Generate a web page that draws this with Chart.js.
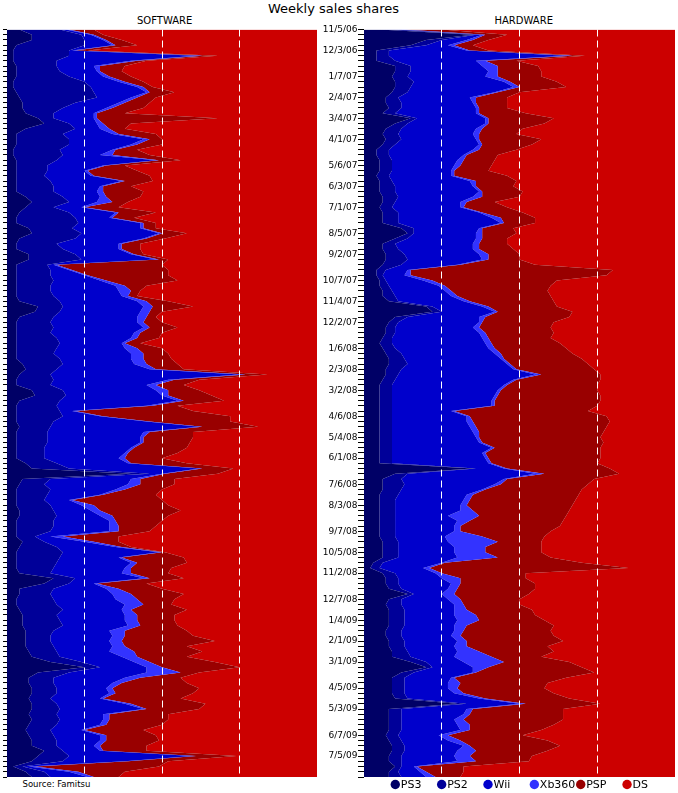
<!DOCTYPE html>
<html>
<head>
<meta charset="utf-8">
<script src="https://cdn.jsdelivr.net/npm/chart.js@4.4.0/dist/chart.umd.min.js"></script>
<style>
  body { margin: 0; background: #fff; }
  #page { position: relative; width: 678px; height: 793px; font-family: 'DejaVu Sans', sans-serif; color: #000; overflow: hidden; }
  .txt { position: absolute; white-space: nowrap; line-height: 1; }
  .panel { position: absolute; top: 0; height: 793px; }
</style>
</head>
<body>
<div id="page">
  <div class="txt" style="left:268px;top:2px;font-size:13px">Weekly sales shares</div>
  <div class="txt" style="left:137px;top:15.5px;font-size:10px">SOFTWARE</div>
  <div class="txt" style="left:494.5px;top:15.5px;font-size:10px">HARDWARE</div>
  <div class="txt" style="left:22.5px;top:780px;font-size:8.5px">Source: Famitsu</div>
  <div class="panel" style="left:0;width:320px"><canvas id="software"></canvas></div>
  <div class="panel" style="left:318px;width:360px"><canvas id="hardware"></canvas></div>
</div>
<script>
// weekly categories, first week 11/5/06
const START = Date.UTC(2006, 10, 5);
const WEEKS = [];
for (let i = 0; i < 144; i++) {
  const d = new Date(START + i * 7 * 864e5);
  WEEKS.push((d.getUTCMonth() + 1) + '/' + d.getUTCDate() + '/' + String(d.getUTCFullYear()).slice(2));
}

const TICK_LABELS = ['11/5/06', '12/3/06', '1/7/07', '2/4/07', '3/4/07', '4/1/07', '5/6/07', '6/3/07',
  '7/1/07', '8/5/07', '9/2/07', '10/7/07', '11/4/07', '12/2/07', '1/6/08', '2/3/08', '3/2/08',
  '4/6/08', '5/4/08', '6/1/08', '7/6/08', '8/3/08', '9/7/08', '10/5/08', '11/2/08', '12/7/08',
  '1/4/09', '2/1/09', '3/1/09', '4/5/09', '5/3/09', '6/7/09', '7/5/09'];

const PLATFORMS = ['PS3', 'PS2', 'Wii', 'Xb360', 'PSP', 'DS'];
const COLORS = ['#000066', '#000099', '#0000cc', '#3333ff', '#990000', '#cc0000'];

// software shares (%)
const SW_PS3 = [4,8,8,3,2,2,2,3,3,3, 2,2,3,4,5,5,6,10,12,6, 3,3,3,2,2,3,3,3,3,3,
  3,3,6,8,6,4,3,3,7,8, 4,3,3,7,7,3,3,3,3,3, 3,3,4,10,9,4,3,3,3,3, 3,3,3,3,5,6,4,3,3,8,
  9,4,3,3,3,3,4,3,3,3, 3,3,3,6,8,40,5,4,3,3, 3,3,4,4,3,3,3,3,5,4, 3,3,3,3,4,15,12,4,4,3,
  3,4,5,5,5,6,6,6,6,7, 8,14,25,10,7,7,8,8,7,8, 8,7,8,7,6,7,8,8,12,10, 8,2,6,8];
const SW_PS2 = [13,16,17,22,18,18,14,13,14,17, 23,25,25,25,17,13,9,5,8,16, 15,17,17,15,16,13,10,10,9,11,
  12,12,12,12,9,16,19,20,14,16, 18,13,15,15,17,10,11,11,12,11, 11,12,13,8,8,11,11,12,11,13,
  14,13,12,14,13,10,10,12,11,10, 10,13,13,14,15,12,10,10,10,10, 9,9,9,10,12,6,9,8,11,10,
  9,11,11,12,12,12,11,6,7,12, 15,14,13,12,10,7,8,11,10,12, 13,14,11,12,13,9,8,8,9,9,
  9,10,5,10,8,8,8,8,7,8, 9,9,9,9,8,8,8,8,6,10, 10,3,6,6];
const SW_WII = [2,3,6,9,1,41,24,12,12,11, 11,15,17,11,14,14,13,13,9,8, 16,24,20,17,12,32,18,12,15,23,
  15,14,12,9,9,15,11,20,22,25, 22,20,18,18,24,2,6,11,15,21, 22,22,25,26,26,27,28,29,27,24,
  20,22,25,23,23,30,61,37,31,30, 31,38,29,4,12,30,48,31,30,30, 28,26,24,23,42,4,26,27,21,17,
  8,10,12,14,18,18,19,5,13,19, 31,19,24,23,23,22,8,17,20,20, 22,19,22,21,21,18,20,19,19,17,
  20,17,15,25,23,19,16,17,16,22, 27,15,14,14,10,15,14,12,12,40, 20,2,8,12];
const SW_XB360 = [1,1,1,1,1,2,2,2,1,2, 2,2,1,2,2,2,1,1,2,3, 2,2,2,1,4,1,1,1,1,1,
  1,2,2,5,1,1,1,1,1,1, 1,1,1,1,1,1,1,1,2,3, 4,2,3,3,3,3,2,2,2,2, 1,4,4,4,4,2,2,2,3,4,
  2,2,2,1,1,1,1,2,1,1, 1,1,2,1,1,1,3,4,3,1, 1,4,3,4,2,3,3,4,3,2, 1,1,2,2,3,2,1,4,6,7,
  6,3,4,4,4,5,4,4,4,8, 5,5,5,11,5,3,2,2,1,2, 1,2,2,2,1,2,2,2,1,1, 1,2,3,2];
const SW_PSP = [8,3,5,7,4,5,3,8,7,7, 6,3,8,6,8,10,9,39,9,5, 12,4,8,7,12,7,6,16,18,9,
  9,13,11,5,11,12,7,4,4,8, 6,6,6,3,3,34,31,26,23,7, 3,3,7,13,4,3,6,9,7,7,
  5,8,8,9,10,9,7,8,9,10, 14,13,8,38,41,26,18,14,16,15, 17,16,12,18,10,17,11,11,12,17,
  29,24,26,18,15,12,10,18,8,3, 1,20,16,13,12,11,16,14,17,12, 9,18,12,12,12,20,22,30,20,22,
  16,21,25,6,13,21,28,25,25,24, 17,19,19,18,19,16,17,15,14,13, 13,40,15,8];
const SW_DS = [72,69,63,58,74,32,55,62,63,60, 56,53,46,52,54,56,62,32,60,62, 52,50,50,58,54,44,62,58,54,53,
  60,56,57,61,64,52,59,52,52,42, 49,57,57,56,48,50,48,48,45,55, 57,58,48,40,50,52,50,45,50,51,
  57,50,48,47,45,43,16,38,43,38, 34,30,45,40,28,28,19,40,40,41, 42,45,50,42,27,32,46,46,50,52,
  50,48,44,48,50,52,54,64,64,60, 49,43,42,47,48,43,55,50,43,46, 47,42,46,46,45,42,40,33,42,37,
  42,33,25,38,44,42,38,40,44,36, 38,48,48,50,56,52,51,55,55,26, 48,51,62,64];

// hardware shares (%)
const HW_PS3 = [5,35,20,15,4,4,4,10,10,9, 10,10,9,7,7,8,6,15,10,7, 6,7,6,4,4,5,5,5,4,5,
  5,5,6,6,5,6,6,6,12,14, 10,6,6,7,7,6,4,4,5,5, 6,6,8,20,22,10,8,7,7,6, 5,6,7,8,8,7,7,6,5,5,
  5,5,5,5,5,5,5,5,5,5, 5,5,5,5,35,10,6,6,6,5, 5,5,5,5,5,5,5,5,6,6, 6,6,3,2,6,7,7,8,14,8,
  7,8,8,8,8,7,7,8,8,9, 9,15,20,12,9,9,9,9,10,30, 8,8,8,8,8,7,8,9,9,8, 8,10,8,8];
const HW_PS2 = [5,1,5,5,4,4,6,5,5,5, 6,5,5,4,5,4,4,2,4,5, 5,5,4,4,4,4,4,4,4,4,
  5,5,5,4,4,5,5,5,4,2, 4,4,5,6,7,6,3,2,2,3, 3,4,3,2,3,4,3,3,3,3, 4,4,5,5,6,5,4,4,4,4,
  4,4,4,4,4,4,4,4,4,4, 4,4,4,4,1,4,6,7,6,6, 5,5,5,5,5,5,5,5,5,5, 5,5,3,3,4,4,4,4,2,4,
  5,5,5,5,5,5,5,5,5,5, 6,5,2,4,4,4,4,4,4,3, 4,4,4,4,4,4,4,4,4,4, 4,2,3,4];
const HW_WII = [1,2,8,7,25,57,26,23,25,25, 29,33,28,23,23,24,26,22,25,24, 24,24,27,27,24,21,20,19,20,25,
  25,27,24,21,22,26,30,33,21,20, 22,25,24,24,24,18,7,7,12,16, 17,18,21,16,17,23,26,25,27,29,
  30,30,30,31,32,36,44,38,36,34, 33,32,32,19,24,24,25,26,27,28, 32,29,30,31,9,41,33,29,26,22,
  22,21,21,17,20,19,19,16,16,18, 18,19,19,14,13,14,17,15,9,15, 17,16,16,17,16,17,16,17,16,16,
  14,12,13,19,15,14,14,16,23,17, 21,20,17,18,19,13,15,19,17,17, 18,4,7,8];
const HW_XB360 = [2,1,2,2,1,2,3,5,3,4, 2,2,1,2,1,1,1,1,1,2, 2,1,1,2,1,2,2,1,1,2,
  1,1,3,2,1,1,3,1,1,2, 2,2,2,3,2,1,1,2,3,2, 2,2,2,2,1,2,1,2,2,2, 2,2,2,1,1,1,2,1,1,1,
  1,1,1,1,1,2,2,2,1,1, 1,1,1,1,1,3,1,2,1,2, 2,2,4,10,4,2,2,12,16,10, 10,13,1,2,2,6,3,3,4,4,
  3,4,7,7,4,3,3,3,4,7, 12,13,5,1,1,4,3,3,2,2, 2,2,3,4,3,3,4,2,6,5, 6,1,2,3];
const HW_PSP = [12,7,5,6,6,4,10,13,14,14, 15,15,7,10,10,9,15,21,18,13, 12,20,16,12,10,10,10,11,17,13,
  12,13,12,9,14,13,11,10,10,11, 8,9,11,10,10,24,65,63,40,34, 31,30,27,22,24,27,23,23,22,20,
  22,23,23,25,25,25,19,27,29,31, 33,34,33,43,44,44,42,40,39,39, 34,37,36,34,33,24,28,28,31,34,
  34,34,31,28,30,32,29,20,14,18, 18,17,44,64,27,21,24,25,24,19, 18,21,19,21,28,28,30,31,26,24,
  16,21,30,38,36,28,28,29,27,24, 29,30,32,27,23,24,28,29,23,20, 17,15,12,8];
const HW_DS = [75,54,60,65,60,29,51,44,43,43, 38,35,50,54,54,54,48,39,42,49, 51,43,46,51,57,58,59,60,54,51,
  52,49,50,58,54,49,45,45,52,51, 54,54,52,50,50,45,20,22,38,40, 41,40,39,38,33,34,39,40,39,40,
  37,35,33,30,28,26,24,24,25,25, 24,24,25,28,22,21,22,23,24,23, 24,24,24,25,21,18,26,28,30,31,
  32,33,34,35,36,37,40,42,43,43, 43,40,30,15,48,48,45,45,47,50, 50,46,45,42,39,40,39,36,41,39,
  43,34,30,26,35,41,42,39,34,24, 36,36,36,39,43,49,41,37,41,46, 47,68,68,69];

// legend with evenly spaced round markers under the hardware panel
const roundLegend = {
  id: 'roundLegend',
  afterDraw(chart, args, opts) {
    if (!opts.show) return;
    const ctx = chart.ctx;
    ctx.save();
    ctx.font = '11px "DejaVu Sans"';
    ctx.textBaseline = 'alphabetic';
    chart.data.datasets.forEach((ds, i) => {
      const cx = chart.chartArea.left + opts.start + i * opts.step;
      ctx.fillStyle = ds.backgroundColor;
      ctx.beginPath();
      ctx.arc(cx, opts.y, 4.7, 0, Math.PI * 2);
      ctx.fill();
      ctx.fillStyle = '#000';
      ctx.fillText(ds.label, cx + 5.5, opts.y + 3);
    });
    ctx.restore();
  }
};

function makePanel(id, series, withLabels) {
  const datasets = series.map((values, i) => ({
    label: PLATFORMS[i],
    data: values,
    backgroundColor: COLORS[i],
    borderColor: COLORS[i],
    borderWidth: 0,
    pointRadius: 0,
    tension: 0,
    fill: i === 0 ? 'origin' : '-1'
  }));

  return new Chart(document.getElementById(id), {
    type: 'line',
    data: { labels: WEEKS, datasets },
    plugins: [roundLegend],
    options: {
      indexAxis: 'y',
      animation: false,
      responsive: true,
      maintainAspectRatio: false,
      devicePixelRatio: 1,
      layout: { padding: { top: 29.5, right: 3, bottom: 16, left: 0 } },
      plugins: {
        legend: { display: false },
        tooltip: { enabled: false },
        roundLegend: { show: withLabels, start: 31.3, step: 46.35, y: 784.5 }
      },
      scales: {
        x: {
          min: 0,
          max: 100,
          stacked: true,
          ticks: { display: false, stepSize: 25 },
          grid: {
            z: 1,
            color: c => (c.tick && c.tick.value > 0 && c.tick.value < 100) ? '#ffffff' : 'rgba(0,0,0,0)',
            lineWidth: 1,
            drawTicks: false
          },
          border: { display: false, dash: [7, 4] },
          afterFit: s => { s.height = 0; }
        },
        y: {
          type: 'category',
          offset: false,
          ticks: {
            display: withLabels,
            autoSkip: false,
            maxRotation: 0,
            minRotation: 0,
            padding: 0.5,
            color: '#000',
            font: { family: 'DejaVu Sans', size: 9 },
            callback: (v, i) => TICK_LABELS.includes(WEEKS[i]) ? WEEKS[i] : ''
          },
          grid: { drawOnChartArea: false, drawTicks: true, tickLength: withLabels ? 6 : 4, color: '#000' },
          border: { display: false },
          afterFit: s => { s.width = withLabels ? 46 : 7; }
        }
      }
    }
  });
}

makePanel('software', [SW_PS3, SW_PS2, SW_WII, SW_XB360, SW_PSP, SW_DS], false);
makePanel('hardware', [HW_PS3, HW_PS2, HW_WII, HW_XB360, HW_PSP, HW_DS], true);
</script>
</body>
</html>
